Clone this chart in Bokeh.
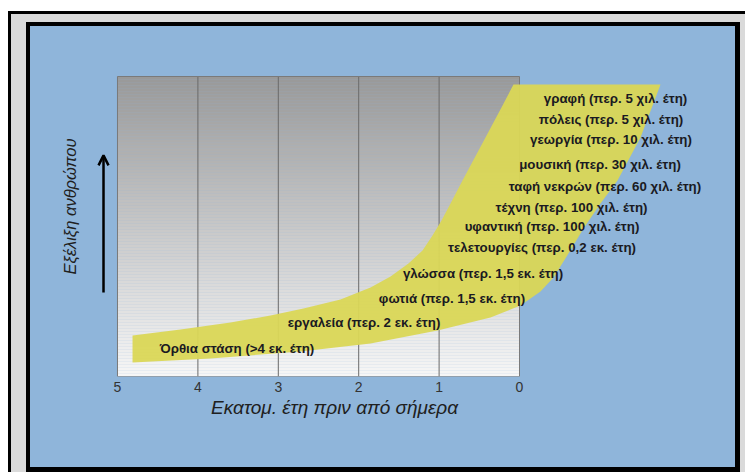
import math
from bokeh.plotting import figure
from bokeh.models import Range1d, FixedTicker, Label, Arrow, OpenHead, LinearAxis
from bokeh.core.properties import value
from bokeh.embed import file_html
from bokeh.resources import INLINE

# ---------------- data ----------------
tick_values = [0, 1, 2, 3, 4, 5]          # millions of years before present
grid_years = [1, 2, 3, 4]

# band (evolution curve) edges: x = Myr before present, y = "evolution" level 0..10
band_upper_x = [4.813, 4.216, 3.595, 3.097, 2.687, 2.226, 1.853, 1.604, 1.381, 1.206, 1.082, 0.970, 0.858, 0.709, 0.423, 0.211, 0.075]
band_upper_y = [1.367, 1.567, 1.800, 2.033, 2.267, 2.567, 2.967, 3.333, 3.767, 4.200, 4.700, 5.200, 5.767, 6.533, 7.967, 9.033, 9.733]
band_lower_x = [4.813, 3.843, 2.724, 1.853, 1.020, 0.361, -0.012, -0.261, -0.423, -0.609, -0.796, -1.007, -1.219, -1.505, -1.754]
band_lower_y = [0.467, 0.600, 0.833, 1.100, 1.533, 1.967, 2.367, 2.833, 3.300, 4.100, 4.933, 5.767, 6.533, 7.967, 9.733]

milestones = [
    "γραφή (περ. 5 χιλ. έτη)",
    "πόλεις (περ. 5 χιλ. έτη)",
    "γεωργία (περ. 10 χιλ. έτη)",
    "μουσική (περ. 30 χιλ. έτη)",
    "ταφή νεκρών (περ. 60 χιλ. έτη)",
    "τέχνη (περ. 100 χιλ. έτη)",
    "υφαντική (περ. 100 χιλ. έτη)",
    "τελετουργίες (περ. 0,2 εκ. έτη)",
    "γλώσσα (περ. 1,5 εκ. έτη)",
    "φωτιά (περ. 1,5 εκ. έτη)",
    "εργαλεία (περ. 2 εκ. έτη)",
    "Όρθια στάση (>4 εκ. έτη)",
]
milestone_x = [-1.194, -1.138, -1.138, -1.001, -1.063, -0.647, -0.404, -0.280, 0.454, 0.840, 1.934, 3.514]
milestone_y = [9.267, 8.567, 7.900, 7.067, 6.333, 5.633, 5.000, 4.300, 3.433, 2.600, 1.800, 0.933]

x_title = "Εκατομ. έτη πριν από σήμερα"
x_title_pos = 2.30
y_title = "Εξέλιξη ανθρώπου"

# ---------------- layout ----------------
W, H = 745, 472
BOTTOM = 96
FH = H - BOTTOM
BLUE = "#8fb5da"
GRAYBAND = "#dadada"
FONT = "Liberation Sans"

p = figure(width=W, height=H, x_range=Range1d(6.4552, -2.8109), y_range=Range1d(0, FH / 30.0),
           output_backend="svg", toolbar_location=None, y_axis_location=None,
           min_border_left=0, min_border_right=0, min_border_top=0, min_border_bottom=BOTTOM)
p.title.visible = False
p.outline_line_color = None
p.grid.visible = False
p.background_fill_alpha = 0
p.border_fill_alpha = 0

def layer(c):
    return "linear-gradient(%s,%s)" % (c, c)

p.styles = {
    "background-color": "white",
    "background-image": ", ".join([layer(BLUE), layer("#000"), layer(GRAYBAND), layer("#000")]),
    "background-position": "30px 26px, 26px 22px, 11px 14px, 8px 11px",
    "background-size": "705px 441px, 714px 450px, 734px 458px, 737px 461px",
    "background-repeat": "no-repeat",
}

# gradient plot area
n = 100
c0 = (153, 153, 153)
c1 = (246, 246, 246)
bots, tops, cols = [], [], []
for i in range(n):
    t = i / (n - 1)
    col = tuple(int(round(c1[k] + (c0[k] - c1[k]) * t)) for k in range(3))
    bots.append(10.0 * i / n)
    tops.append(10.0 * (i + 1) / n + 0.01)
    cols.append("#%02x%02x%02x" % col)
p.quad(left=5, right=0, bottom=bots, top=tops, fill_color=cols, line_color=None)
p.segment(x0=grid_years, y0=0, x1=grid_years, y1=10, line_color="#6a6a6a", line_width=1)
p.quad(left=5, right=0, bottom=0, top=10, fill_color=None, line_color="#7a7a7a", line_width=1)

# band
p.patch(x=band_upper_x + band_lower_x[::-1], y=band_upper_y + band_lower_y[::-1],
        fill_color="#dad756", fill_alpha=0.95, line_color=None)

p.text(x=milestone_x, y=milestone_y, text=milestones, text_align="center", text_baseline="middle",
       text_font=value(FONT), text_font_style="bold", text_font_size="13.3px", text_color="#1a1a22")

# x axis (tick labels)
ax = p.xaxis[0]
ax.ticker = FixedTicker(ticks=tick_values)
ax.axis_line_color = None
ax.major_tick_line_color = None
ax.minor_tick_line_color = None
ax.major_tick_out = 0
ax.major_tick_in = 0
ax.major_label_standoff = 5
ax.major_label_text_font = FONT
ax.major_label_text_font_size = "14px"
ax.major_label_text_color = "#333333"

# second axis carrying the x title at its place under the plot area
ax2 = LinearAxis(ticker=FixedTicker(ticks=[x_title_pos]), major_label_overrides={x_title_pos: x_title},
                 axis_line_color=None, major_tick_line_color=None, minor_tick_line_color=None,
                 major_tick_out=0, major_tick_in=0, major_label_standoff=2,
                 major_label_text_font=FONT, major_label_text_font_style="italic",
                 major_label_text_font_size="19px", major_label_text_color="#202020")
p.add_layout(ax2, "below")

p.add_layout(Label(x=5.585, y=5.667, text=y_title, angle=math.pi / 2,
                   text_align="center", text_baseline="middle", text_font=FONT,
                   text_font_style="italic", text_font_size="16.5px", text_color="#202020"))
p.add_layout(Arrow(end=OpenHead(size=10, line_width=2.5, line_color="black"),
                   x_start=5.174, y_start=2.8, x_end=5.174, y_end=7.37,
                   line_width=2.5, line_color="black"))

open("out.html", "w").write(file_html(p, INLINE))
